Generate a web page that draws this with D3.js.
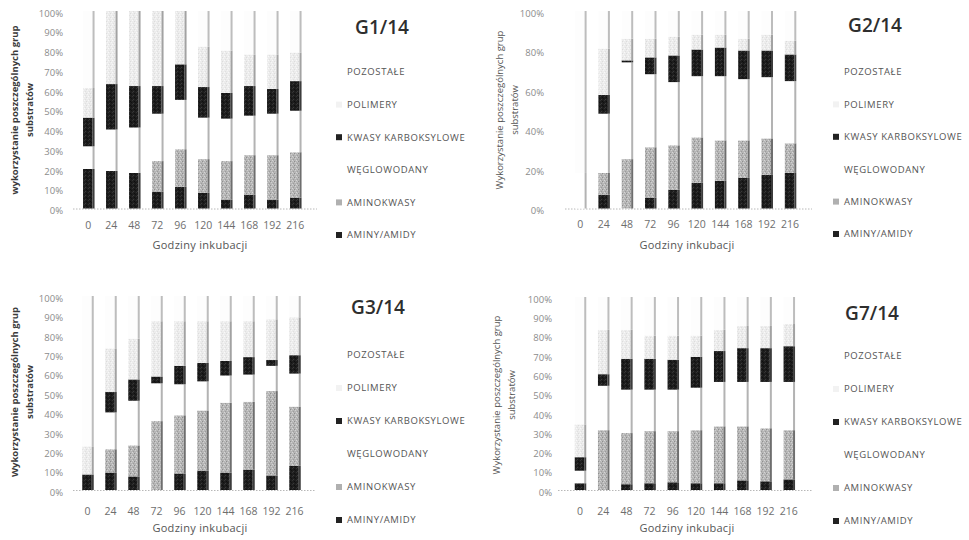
<!DOCTYPE html>
<html>
<head>
<meta charset="utf-8">
<script src="https://cdn.jsdelivr.net/npm/d3@7"></script>
<style>
  body { margin: 0; background: #fff; }
  svg { display: block; }
  text { font-family: "Open Sans", "Noto Sans", sans-serif; }
</style>
</head>
<body>
<svg id="chart" width="969" height="540"></svg>
<script>
// Incubation hours (x categories)
const hours = ["0", "24", "48", "72", "96", "120", "144", "168", "192", "216"];

// Substrate groups, bottom of the stack first
const seriesNames = ["AMINY/AMIDY", "AMINOKWASY", "WĘGLOWODANY", "KWASY KARBOKSYLOWE", "POLIMERY", "POZOSTAŁE"];

// G1/14 — share of each substrate group (%)
const g1Aminy    = [20, 19, 18, 8.5, 11, 8, 4.5, 7, 4.5, 5.5];
const g1Amino    = [0, 0, 0, 15.5, 19, 17, 19.5, 20, 22.5, 23];
const g1Wegl     = [11.5, 21, 23, 24, 25, 21, 21.5, 20, 21, 21];
const g1Kwasy    = [14.5, 23, 21, 14, 18, 15.5, 13, 15, 12.5, 15];
const g1Polimery = [15, 37, 38, 38, 27, 20.5, 21.5, 16, 17.5, 14.5];
const g1Pozost   = [39, 0, 0, 0, 0, 18, 20, 22, 22, 21];

// G2/14
const g2Aminy    = [0, 7, 0, 5.5, 9.5, 13, 14, 15.5, 17, 18];
const g2Amino    = [0, 11, 25, 25.5, 22.5, 23, 20.5, 19, 18.5, 15];
const g2Wegl     = [18, 30, 49, 37, 32, 31, 32.5, 31, 31, 31.5];
const g2Kwasy    = [0, 9.5, 1, 8.5, 13.5, 13.5, 14.5, 14.5, 13.5, 13.5];
const g2Polimery = [0, 23.5, 11, 9.5, 9.5, 7.5, 6.5, 6, 8, 7];
const g2Pozost   = [82, 19, 14, 14, 13, 12, 12, 14, 12, 15];

// G3/14
const g3Aminy    = [8, 9, 7, 0, 8.5, 10, 9, 10.5, 7.5, 12.5];
const g3Amino    = [0, 12, 16, 35.5, 30, 31, 36, 35, 43.5, 30.5];
const g3Wegl     = [0, 19, 23, 19.5, 16, 15, 14, 14, 13, 17];
const g3Kwasy    = [0, 10.5, 11, 3.5, 9.5, 9.5, 7.5, 9, 3, 9.5];
const g3Polimery = [14.5, 22.5, 21, 28.5, 23, 21.5, 20.5, 18.5, 21, 19.5];
const g3Pozost   = [77.5, 27, 22, 13, 13, 13, 13, 13, 12, 11];

// G7/14
const g7Aminy    = [3.5, 0, 3, 3.5, 4, 3.5, 3.5, 5, 4.5, 5.5];
const g7Amino    = [0, 31, 26.5, 27, 26.5, 27.5, 29.5, 28, 27.5, 25.5];
const g7Wegl     = [6.5, 23, 22.5, 21.5, 21.5, 22, 23, 23, 24, 25];
const g7Kwasy    = [7, 6, 16, 16, 15.5, 16, 16, 17.5, 17.5, 18.5];
const g7Polimery = [17, 23, 15, 12, 12.5, 11, 11, 11.5, 11.5, 11.5];
const g7Pozost   = [66, 17, 17, 20, 20, 20, 17, 15, 15, 14];

const yTicks10 = [0, 10, 20, 30, 40, 50, 60, 70, 80, 90, 100];
const yTicks20 = [0, 20, 40, 60, 80, 100];

const svg = d3.select("#chart");
const defs = svg.append("defs");

// Grainy fills for the printed bars
function grain(id, base, specks) {
  const p = defs.append("pattern").attr("id", id)
    .attr("patternUnits", "userSpaceOnUse").attr("width", 4).attr("height", 4);
  p.append("rect").attr("width", 4).attr("height", 4).attr("fill", base);
  specks.forEach(([x, y, c]) => p.append("rect").attr("x", x).attr("y", y)
    .attr("width", 1).attr("height", 1).attr("fill", c));
}
grain("texDark", "#1d1d1d", [[0, 0, "#333"], [2, 1, "#0e0e0e"], [1, 3, "#3a3a3a"], [3, 2, "#111"]]);
grain("texMid", "#b5b5b5", [[0, 0, "#d6d6d6"], [2, 1, "#8e8e8e"], [1, 3, "#9c9c9c"], [3, 2, "#d0d0d0"], [1, 1, "#c6c6c6"]]);
grain("texLight", "#ececec", [[0, 0, "#f9f9f9"], [2, 1, "#dcdcdc"], [1, 3, "#e0e0e0"], [3, 2, "#f6f6f6"]]);

const fills = {
  "AMINY/AMIDY": "url(#texDark)",
  "AMINOKWASY": "url(#texMid)",
  "WĘGLOWODANY": "#ffffff",
  "KWASY KARBOKSYLOWE": "url(#texDark)",
  "POLIMERY": "url(#texLight)",
  "POZOSTAŁE": "#fdfdfd"
};
const edges = {
  "AMINY/AMIDY": "#3c3c3c",
  "AMINOKWASY": "#6e6e6e",
  "WĘGLOWODANY": "#b3b3b3",
  "KWASY KARBOKSYLOWE": "#3c3c3c",
  "POLIMERY": "#a2a2a2",
  "POZOSTAŁE": "#bdbdbd"
};
const legendMarks = {
  "AMINY/AMIDY": "#222",
  "AMINOKWASY": "#b0b0b0",
  "WĘGLOWODANY": "#fff",
  "KWASY KARBOKSYLOWE": "#222",
  "POLIMERY": "#f2f2f2",
  "POZOSTAŁE": "#fff"
};

const panels = [
  { title: "G1/14", series: [g1Aminy, g1Amino, g1Wegl, g1Kwasy, g1Polimery, g1Pozost],
    xr: [77.3, 307.3], yr: [208.5, 11], ticks: yTicks10, tickX: 63, base: [73, 317],
    xLabY: 229, xTitle: [200, 249], yTitle: [15, 30, 110], yBold: true, yLower: true,
    titlePos: [382, 27], legX: 336, legY: 72, legStep: 32.6 },
  { title: "G2/14", series: [g2Aminy, g2Amino, g2Wegl, g2Kwasy, g2Polimery, g2Pozost],
    xr: [569.2, 802.2], yr: [208.5, 11], ticks: yTicks20, tickX: 544, base: [565, 812],
    xLabY: 228, xTitle: [687, 249], yTitle: [500, 515, 110], yBold: false, yLower: false,
    titlePos: [875, 25], legX: 833, legY: 72, legStep: 32.4 },
  { title: "G3/14", series: [g3Aminy, g3Amino, g3Wegl, g3Kwasy, g3Polimery, g3Pozost],
    xr: [76.5, 306.5], yr: [490, 296], ticks: yTicks10, tickX: 63, base: [73, 315],
    xLabY: 515, xTitle: [200, 532], yTitle: [15, 30, 392], yBold: true, yLower: false,
    titlePos: [378, 307], legX: 336, legY: 355, legStep: 33 },
  { title: "G7/14", series: [g7Aminy, g7Amino, g7Wegl, g7Kwasy, g7Polimery, g7Pozost],
    xr: [568.9, 800.9], yr: [490, 297], ticks: yTicks10, tickX: 552, base: [558, 812],
    xLabY: 515, xTitle: [687, 532], yTitle: [497, 512, 395], yBold: false, yLower: false,
    titlePos: [872, 313], legX: 833, legY: 356, legStep: 33 }
];

const barW = 9.5, edgeW = 2;

panels.forEach(p => {
  const g = svg.append("g");
  const x = d3.scalePoint().domain(hours).range(p.xr).padding(0.5);
  const y = d3.scaleLinear().domain([0, 100]).range(p.yr);

  const rows = hours.map((h, i) => {
    const r = { hour: h };
    seriesNames.forEach((s, k) => r[s] = p.series[k][i]);
    return r;
  });
  const stacked = d3.stack().keys(seriesNames)(rows);

  // dotted zero line
  g.append("line")
    .attr("x1", p.base[0]).attr("x2", p.base[1])
    .attr("y1", y(0) + 0.5).attr("y2", y(0) + 0.5)
    .attr("stroke", "#b8b8b8").attr("stroke-width", 1).attr("stroke-dasharray", "1.5,1.5");

  // stacked bars with a shaded right side
  const layer = g.selectAll("g.layer").data(stacked).join("g").attr("class", "layer");
  layer.selectAll("rect.face").data(d => d.map(v => ({ v, key: d.key })))
    .join("rect").attr("class", "face")
    .attr("x", d => x(d.v.data.hour) - (barW + edgeW) / 2)
    .attr("y", d => y(d.v[1]))
    .attr("width", barW)
    .attr("height", d => Math.max(0, y(d.v[0]) - y(d.v[1])))
    .attr("fill", d => fills[d.key]);
  layer.selectAll("rect.side").data(d => d.map(v => ({ v, key: d.key })))
    .join("rect").attr("class", "side")
    .attr("x", d => x(d.v.data.hour) - (barW + edgeW) / 2 + barW)
    .attr("y", d => y(d.v[1]))
    .attr("width", edgeW)
    .attr("height", d => Math.max(0, y(d.v[0]) - y(d.v[1])))
    .attr("fill", d => edges[d.key]);

  // y axis
  const ya = g.append("g").attr("transform", `translate(${p.tickX},0)`)
    .call(d3.axisLeft(y).tickValues(p.ticks).tickFormat(d => d + "%").tickSize(0).tickPadding(0));
  ya.select(".domain").remove();
  ya.selectAll("text").attr("fill", "#8c8c8c").style("font-size", "9.5px")
    .attr("dy", "0.55em");

  // x axis
  const xa = g.append("g").attr("transform", `translate(-1,${p.xLabY - 7})`)
    .call(d3.axisBottom(x).tickSize(0).tickPadding(0));
  xa.select(".domain").remove();
  xa.selectAll("text").attr("fill", "#6e6e6e").style("font-size", "10.5px");

  g.append("text").attr("x", p.xTitle[0]).attr("y", p.xTitle[1])
    .attr("text-anchor", "middle").attr("fill", "#555").style("font-size", "11px")
    .style("letter-spacing", "0.3px")
    .text("Godziny inkubacji");

  // y title (two lines)
  const yt = p.yTitle;
  const first = (p.yLower ? "w" : "W") + "ykorzystanie poszczególnych grup";
  [[first, yt[0]], ["substratów", yt[1]]].forEach(([t, xx]) => {
    g.append("text").attr("transform", `translate(${xx},${yt[2]}) rotate(-90)`)
      .attr("text-anchor", "middle").attr("dy", "0.35em")
      .attr("fill", p.yBold ? "#3a3a3a" : "#555")
      .style("font-size", "9.5px").style("font-weight", p.yBold ? 700 : 400)
      .text(t);
  });

  // panel title
  g.append("text").attr("x", p.titlePos[0]).attr("y", p.titlePos[1])
    .attr("text-anchor", "middle").attr("dy", "0.35em")
    .attr("fill", "#2e2e2e").style("font-size", "19px").style("font-weight", 600)
    .text(p.title);

  // legend, top entry is the top of the stack
  const legOrder = seriesNames.slice().reverse();
  const lg = g.selectAll("g.leg").data(legOrder).join("g").attr("class", "leg")
    .attr("transform", (d, i) => `translate(${p.legX},${p.legY + i * p.legStep})`);
  lg.append("rect").attr("x", 0).attr("y", -3).attr("width", 6).attr("height", 6)
    .attr("fill", d => legendMarks[d]);
  lg.append("text").attr("x", 11).attr("dy", "0.35em")
    .attr("fill", "#555").style("font-size", "9.5px").style("letter-spacing", "0.6px")
    .text(d => d);
});
</script>
</body>
</html>
